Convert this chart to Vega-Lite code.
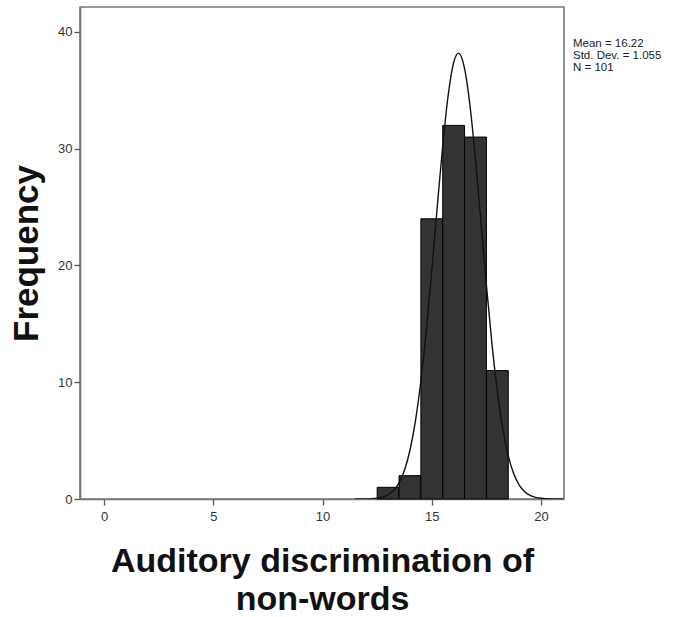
{
  "$schema": "https://vega.github.io/schema/vega-lite/v6.json",
  "autosize": "none",
  "width": 484,
  "height": 492,
  "padding": {"left": 80, "top": 7, "right": 116, "bottom": 118},
  "background": "white",
  "config": {
    "font": "Liberation Sans",
    "view": {"stroke": "#777", "strokeWidth": 1.6},
    "axis": {
      "grid": false,
      "domainColor": "#777",
      "domainWidth": 1.6,
      "tickColor": "#555",
      "tickWidth": 1.3,
      "tickSize": 6,
      "labelFont": "Liberation Sans",
      "labelFontSize": 13,
      "labelColor": "#333",
      "titleFont": "Liberation Sans",
      "titleFontWeight": "bold",
      "titleColor": "#111"
    }
  },
  "title": {
    "text": ["Mean = 16.22", "Std. Dev. = 1.055", "N = 101"],
    "anchor": "end",
    "align": "left",
    "frame": "group",
    "orient": "top",
    "baseline": "alphabetic",
    "offset": 0,
    "dx": 9,
    "dy": 75,
    "font": "Liberation Sans",
    "fontSize": 11.5,
    "fontWeight": "normal",
    "lineHeight": 12,
    "color": "#222"
  },
  "datasets": {
    "bars": [
      {"bin_start": 12.5, "bin_end": 13.5, "count": 1},
      {"bin_start": 13.5, "bin_end": 14.5, "count": 2},
      {"bin_start": 14.5, "bin_end": 15.5, "count": 24},
      {"bin_start": 15.5, "bin_end": 16.5, "count": 32},
      {"bin_start": 16.5, "bin_end": 17.5, "count": 31},
      {"bin_start": 17.5, "bin_end": 18.5, "count": 11}
    ],
    "curve": [
      {"x": 11.5, "y": 0.0017},
      {"x": 12.0, "y": 0.0128},
      {"x": 12.25, "y": 0.032},
      {"x": 12.5, "y": 0.0762},
      {"x": 12.75, "y": 0.171},
      {"x": 13.0, "y": 0.362},
      {"x": 13.25, "y": 0.726},
      {"x": 13.5, "y": 1.376},
      {"x": 13.75, "y": 2.464},
      {"x": 14.0, "y": 4.174},
      {"x": 14.25, "y": 6.678},
      {"x": 14.5, "y": 10.11},
      {"x": 14.75, "y": 14.47},
      {"x": 15.0, "y": 19.57},
      {"x": 15.25, "y": 25.03},
      {"x": 15.5, "y": 30.26},
      {"x": 15.75, "y": 34.58},
      {"x": 16.0, "y": 37.37},
      {"x": 16.22, "y": 38.19},
      {"x": 16.5, "y": 36.87},
      {"x": 16.75, "y": 33.66},
      {"x": 17.0, "y": 29.06},
      {"x": 17.25, "y": 23.72},
      {"x": 17.5, "y": 18.30},
      {"x": 17.75, "y": 13.35},
      {"x": 18.0, "y": 9.20},
      {"x": 18.25, "y": 6.00},
      {"x": 18.5, "y": 3.697},
      {"x": 18.75, "y": 2.154},
      {"x": 19.0, "y": 1.187},
      {"x": 19.25, "y": 0.618},
      {"x": 19.5, "y": 0.304},
      {"x": 19.75, "y": 0.1415},
      {"x": 20.0, "y": 0.0623},
      {"x": 20.5, "y": 0.0102},
      {"x": 21.0, "y": 0.0013}
    ]
  },
  "layer": [
    {
      "data": {"name": "bars"},
      "mark": {"type": "rect", "fill": "#333333", "stroke": "#000", "strokeWidth": 1},
      "encoding": {
        "x": {
          "field": "bin_start",
          "type": "quantitative",
          "scale": {"domain": [-1.1, 21.05], "nice": false, "zero": false},
          "axis": {
            "values": [0, 5, 10, 15, 20],
            "labelPadding": 5,
            "title": ["Auditory discrimination of", "non-words"],
            "titleFontSize": 34,
            "titleLineHeight": 38,
            "titleBaseline": "alphabetic",
            "titleAnchor": "middle",
            "titleY": 72
          }
        },
        "x2": {"field": "bin_end"},
        "y": {
          "field": "count",
          "type": "quantitative",
          "scale": {"domain": [0, 42.14], "nice": false},
          "axis": {
            "values": [0, 10, 20, 30, 40],
            "labelPadding": 2,
            "title": "Frequency",
            "titleFontSize": 35,
            "titleAngle": 270,
            "titleBaseline": "alphabetic",
            "titleAlign": "center",
            "titleX": -43,
            "titleY": 246
          }
        },
        "y2": {"datum": 0}
      }
    },
    {
      "data": {"name": "curve"},
      "mark": {"type": "line", "color": "#111", "strokeWidth": 1.4, "interpolate": "monotone", "clip": true},
      "encoding": {
        "x": {"field": "x", "type": "quantitative"},
        "y": {"field": "y", "type": "quantitative"}
      }
    }
  ]
}
